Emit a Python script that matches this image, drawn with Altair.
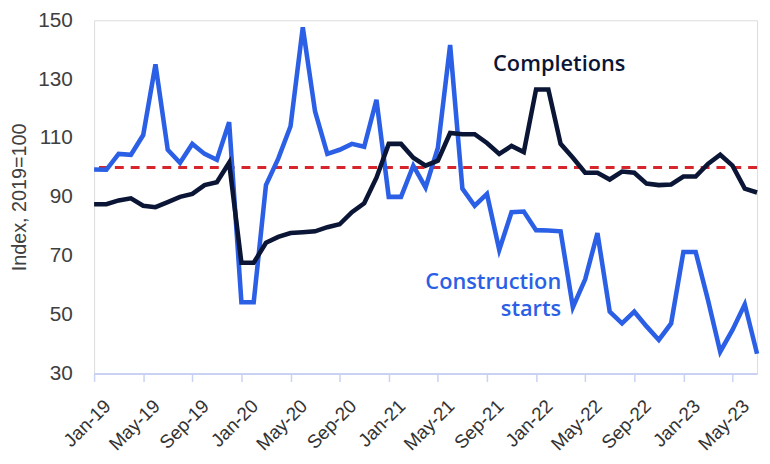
import altair as alt
import pandas as pd

months = [
    "Jan-19","Feb-19","Mar-19","Apr-19","May-19","Jun-19","Jul-19","Aug-19","Sep-19","Oct-19","Nov-19","Dec-19",
    "Jan-20","Feb-20","Mar-20","Apr-20","May-20","Jun-20","Jul-20","Aug-20","Sep-20","Oct-20","Nov-20","Dec-20",
    "Jan-21","Feb-21","Mar-21","Apr-21","May-21","Jun-21","Jul-21","Aug-21","Sep-21","Oct-21","Nov-21","Dec-21",
    "Jan-22","Feb-22","Mar-22","Apr-22","May-22","Jun-22","Jul-22","Aug-22","Sep-22","Oct-22","Nov-22","Dec-22",
    "Jan-23","Feb-23","Mar-23","Apr-23","May-23","Jun-23","Jul-23",
]

starts = [
    99.3, 99.2, 104.6, 104.3, 111.0, 135.0, 106.0, 101.6, 108.0, 104.6, 102.6, 115.4,
    54.2, 54.2, 94.0, 103.0, 114.0, 147.6, 119.0, 104.6, 106.0, 108.0, 107.0, 123.0,
    90.0, 90.0, 100.6, 93.2, 106.6, 141.6, 92.8, 87.0, 91.0, 72.0, 84.8, 85.0,
    78.7, 78.6, 78.3, 52.5, 62.0, 77.7, 51.0, 47.0, 51.0, 46.0, 41.4, 47.0,
    71.3, 71.3, 55.0, 37.4, 44.8, 53.5, 36.7,
]

completions = [
    87.5, 87.5, 88.8, 89.5, 87.0, 86.5, 88.2, 90.0, 91.0, 94.0, 95.0, 101.6,
    67.6, 67.6, 74.4, 76.4, 77.7, 78.0, 78.3, 79.7, 80.7, 84.8, 87.8, 96.5,
    108.0, 108.0, 103.3, 100.6, 102.3, 111.7, 111.3, 111.3, 108.3, 104.6, 107.3, 105.2,
    126.5, 126.5, 108.0, 103.3, 98.2, 98.2, 95.9, 98.6, 98.2, 94.5, 94.0, 94.2,
    96.9, 96.9, 101.2, 104.3, 100.6, 92.8, 91.5,
]

tick_months = months[::4]
y_ticks = [30, 50, 70, 90, 110, 130, 150]
reference_level = 100

series_names = ["Construction starts", "Completions"]
series_colors = ["#2a5fe6", "#0b1535"]

rows = []
for m, s, c in zip(months, starts, completions):
    rows.append({"month": m, "series": series_names[0], "value": s})
    rows.append({"month": m, "series": series_names[1], "value": c})
df = pd.DataFrame(rows)

xscale = alt.Scale(type="point", padding=0, domain=months)
yscale = alt.Scale(domain=[30, 150], nice=False, zero=False)
cscale = alt.Scale(domain=series_names, range=series_colors)

base = alt.Chart(df)

lines = base.mark_line(strokeWidth=4.6, strokeJoin="miter").encode(
    x=alt.X("month:O", scale=xscale, sort=months,
            axis=alt.Axis(values=tick_months, labelAngle=-45, labelFontSize=19,
                          labelFont="Liberation Sans", labelColor="#333333",
                          domainColor="#c9d2f2", tickColor="#c9d2f2", tickSize=8,
                          domainWidth=2, tickWidth=1.5, labelPadding=15, labelOffset=7,
                          title=None, grid=False)),
    y=alt.Y("value:Q", scale=yscale,
            axis=alt.Axis(values=y_ticks, domain=False, ticks=False, grid=False,
                          labelFontSize=21, labelFont="Liberation Sans", labelColor="#404040",
                          labelPadding=22, title="Index, 2019=100", titleFontSize=20,
                          titleFont="Liberation Sans", titleFontWeight="normal",
                          titleColor="#404040", titlePadding=8)),
    color=alt.Color("series:N", scale=cscale, legend=None),
    detail="series:N",
)

ref_df = pd.DataFrame({"y": [reference_level]})
rule = alt.Chart(ref_df).mark_rule(color="#d7262b", strokeWidth=3, strokeDash=[9, 7]).encode(
    y=alt.Y("y:Q", scale=yscale)
)

label_df = pd.DataFrame({
    "month": ["Feb-22", "Feb-22", "Feb-22"],
    "value": [135.0, 61.0, 52.0],
    "text": ["Completions", "Construction", "starts"],
    "series": ["Completions", "Construction starts", "Construction starts"],
})

lab_completions = alt.Chart(label_df.iloc[[0]]).mark_text(
    font="Open Sans", fontSize=22, fontWeight=600, align="center", baseline="middle", dx=11
).encode(
    x=alt.X("month:O", scale=xscale, sort=months),
    y=alt.Y("value:Q", scale=yscale),
    text="text:N",
    color=alt.Color("series:N", scale=cscale, legend=None),
)

lab_starts = alt.Chart(label_df.iloc[[1, 2]]).mark_text(
    font="Open Sans", fontSize=22, fontWeight=600, align="right", baseline="middle", dx=13
).encode(
    x=alt.X("month:O", scale=xscale, sort=months),
    y=alt.Y("value:Q", scale=yscale),
    text="text:N",
    color=alt.Color("series:N", scale=cscale, legend=None),
)

chart = alt.layer(rule, lines, lab_completions, lab_starts).properties(
    width=670, height=357,
    autosize=alt.AutoSizeParams(type="none"),
    padding={"left": 87, "top": 10, "right": 5, "bottom": 81},
).configure_view(stroke=None).configure(background="white")

chart.save("out.html", embed_options={"renderer": "svg", "actions": False})
